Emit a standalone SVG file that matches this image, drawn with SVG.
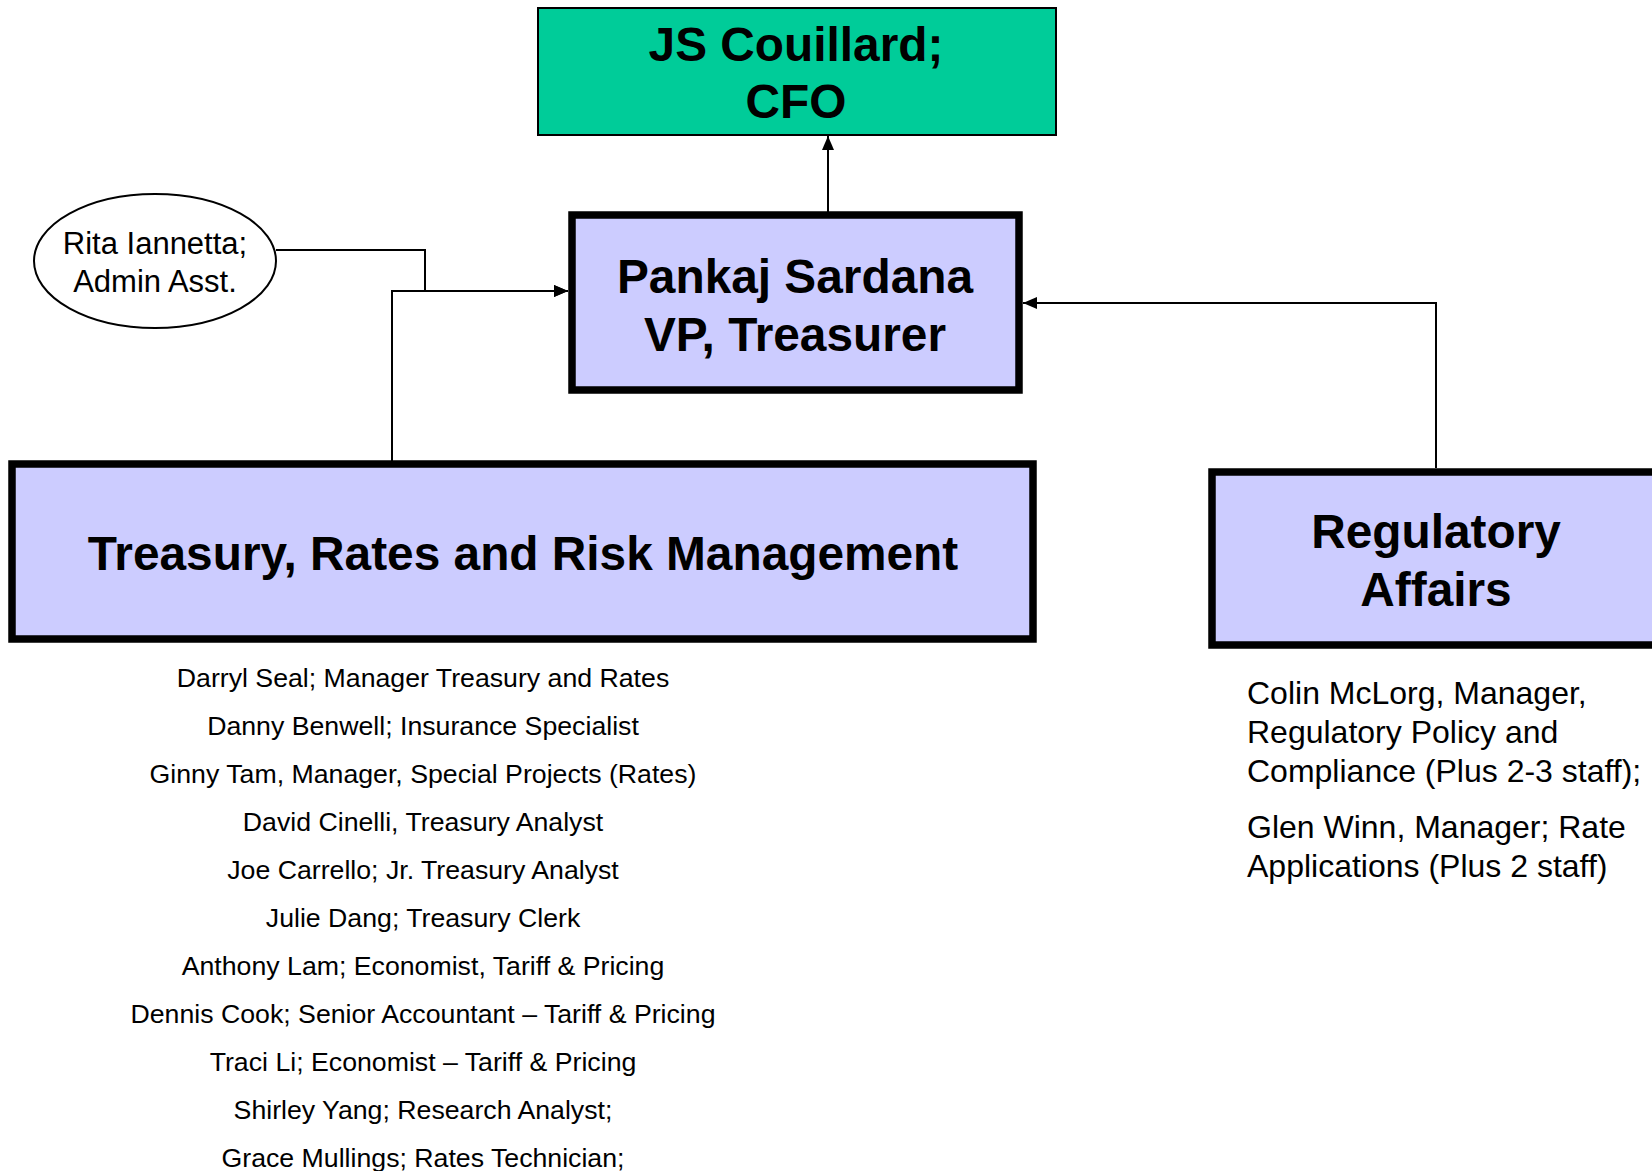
<svg xmlns="http://www.w3.org/2000/svg" width="1652" height="1171" viewBox="0 0 1652 1171">
<style>
.bold{font-family:"Liberation Sans",Arial,sans-serif;font-weight:bold;font-size:47.8px;fill:#000;text-anchor:middle}
.reg{font-family:"Liberation Sans",Arial,sans-serif;fill:#000}
.staff{font-size:26.7px;text-anchor:middle}
.box{fill:#CCCCFF;stroke:#000;stroke-width:7.5}
.conn{fill:none;stroke:#000;stroke-width:2}
</style>
<defs>
<marker id="arr" viewBox="0 0 14 12" refX="14" refY="6" markerWidth="14" markerHeight="12" markerUnits="userSpaceOnUse" orient="auto">
<path d="M0,0 L14,6 L0,12 Z" fill="#000"/>
</marker>
</defs>
<rect width="1652" height="1171" fill="#fff"/>
<g id="connectors">
<path class="conn" d="M276,250 H425 V291 H568" marker-end="url(#arr)"/>
<path class="conn" d="M392,461 V291 H568" marker-end="url(#arr)"/>
<path class="conn" d="M828,212 V136" marker-end="url(#arr)"/>
<path class="conn" d="M1436,468 V303 H1023" marker-end="url(#arr)"/>
</g>
<g id="cfo">
<rect x="538" y="8" width="518" height="127" fill="#00CC99" stroke="#000" stroke-width="2"/>
<text class="bold" x="796" y="61">JS Couillard;</text>
<text class="bold" x="796" y="118">CFO</text>
</g>
<g id="vp">
<rect class="box" x="572" y="215" width="447" height="175"/>
<text class="bold" x="795" y="293">Pankaj Sardana</text>
<text class="bold" x="795" y="351">VP, Treasurer</text>
</g>
<g id="admin">
<ellipse cx="155" cy="261" rx="121" ry="67" fill="#fff" stroke="#000" stroke-width="2"/>
<text class="reg" x="155" y="254" font-size="31" text-anchor="middle">Rita Iannetta;</text>
<text class="reg" x="155" y="292" font-size="31" text-anchor="middle">Admin Asst.</text>
</g>
<g id="treasury">
<rect class="box" x="12" y="464" width="1021" height="175"/>
<text class="bold" x="523" y="570">Treasury, Rates and Risk Management</text>
</g>
<g id="treasury-staff">
<text class="reg staff" x="423" y="687">Darryl Seal; Manager Treasury and Rates</text>
<text class="reg staff" x="423" y="735">Danny Benwell; Insurance Specialist</text>
<text class="reg staff" x="423" y="783">Ginny Tam, Manager, Special Projects (Rates)</text>
<text class="reg staff" x="423" y="831">David Cinelli, Treasury Analyst</text>
<text class="reg staff" x="423" y="879">Joe Carrello; Jr. Treasury Analyst</text>
<text class="reg staff" x="423" y="927">Julie Dang; Treasury Clerk</text>
<text class="reg staff" x="423" y="975">Anthony Lam; Economist, Tariff &amp; Pricing</text>
<text class="reg staff" x="423" y="1023">Dennis Cook; Senior Accountant – Tariff &amp; Pricing</text>
<text class="reg staff" x="423" y="1071">Traci Li; Economist – Tariff &amp; Pricing</text>
<text class="reg staff" x="423" y="1119">Shirley Yang; Research Analyst;</text>
<text class="reg staff" x="423" y="1167">Grace Mullings; Rates Technician;</text>
</g>
<g id="regulatory">
<rect class="box" x="1212" y="472" width="460" height="173"/>
<text class="bold" x="1436" y="548">Regulatory</text>
<text class="bold" x="1436" y="606">Affairs</text>
</g>
<g id="regulatory-staff">
<text class="reg" x="1247" y="704" font-size="32">Colin McLorg, Manager,</text>
<text class="reg" x="1247" y="743" font-size="32">Regulatory Policy and</text>
<text class="reg" x="1247" y="782" font-size="32">Compliance (Plus 2-3 staff);</text>
<text class="reg" x="1247" y="838" font-size="32">Glen Winn, Manager; Rate</text>
<text class="reg" x="1247" y="877" font-size="32">Applications (Plus 2 staff)</text>
</g>
</svg>
